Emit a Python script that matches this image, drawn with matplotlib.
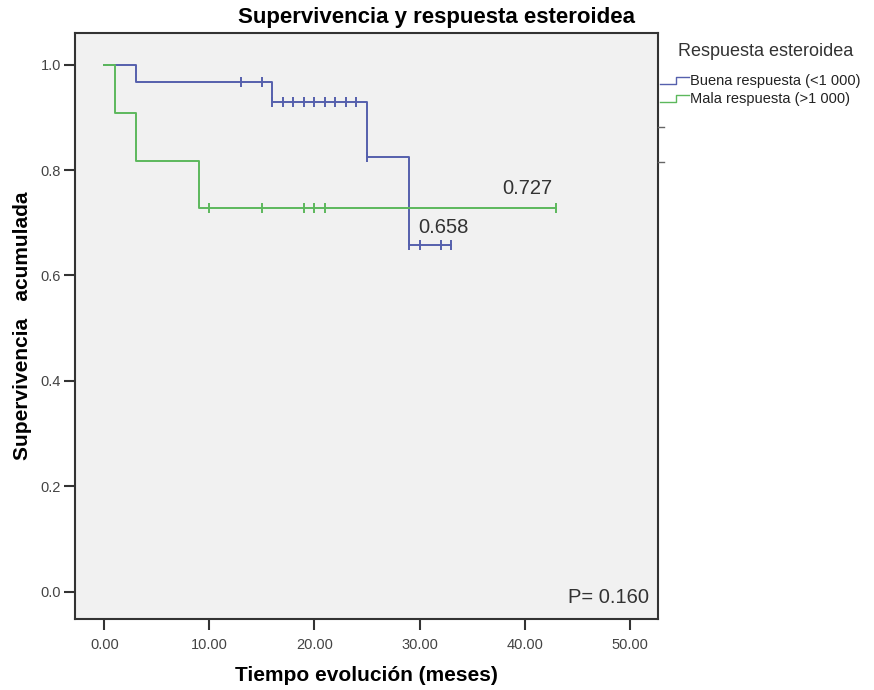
import matplotlib
matplotlib.use("Agg")
import matplotlib.pyplot as plt
from matplotlib.lines import Line2D
import numpy as np

plt.rcParams['font.family'] = ['Liberation Sans', 'DejaVu Sans']

# ---- data ----
good_label = "Buena respuesta (<1 000)"
bad_label = "Mala respuesta (>1 000)"

good_times = [0, 3, 16, 25, 29]
good_surv = [1.0, 0.967, 0.929, 0.824, 0.658]
good_end = 33
good_censor = [13, 15, 16, 17, 18, 19, 20, 21, 22, 23, 24, 25, 29, 30, 32, 33]

bad_times = [0, 1, 3, 9]
bad_surv = [1.0, 0.909, 0.818, 0.727]
bad_end = 43
bad_censor = [10, 15, 19, 20, 21, 43]

x_ticks = [0, 10, 20, 30, 40, 50]
y_ticks = [0.0, 0.2, 0.4, 0.6, 0.8, 1.0]

blue = "#5560ad"
green = "#5cb85c"

W, H = 874, 690
fig = plt.figure(figsize=(W / 100, H / 100), dpi=100)
fig.patch.set_facecolor("white")
ax = fig.add_axes([75 / W, 1 - 619 / H, (658 - 75) / W, (619 - 33) / H])
ax.set_facecolor("#f1f1f1")


def surv_at(t, times, surv):
    idx = np.searchsorted(times, t, side="right") - 1
    return np.asarray(surv)[idx]


for times, surv, end, cens, col in [
    (good_times, good_surv, good_end, good_censor, blue),
    (bad_times, bad_surv, bad_end, bad_censor, green),
]:
    xs = list(times) + [end]
    ys = list(surv) + [surv[-1]]
    ax.step(xs, ys, where="post", color=col, lw=1.4)
    cy = surv_at(np.array(cens), times, surv)
    ax.plot(cens, cy, linestyle="none", marker="|", markersize=6.5,
            markeredgewidth=1.4, color=col)

ax.set_xlim(-2.79, 52.7)
ax.set_ylim(-0.052, 1.06)
ax.set_xticks(x_ticks)
ax.set_xticklabels([f"{v:.2f}" for v in x_ticks])
ax.set_yticks(y_ticks)
ax.set_yticklabels([f"{v:.1f}" for v in y_ticks])
ax.tick_params(axis="both", direction="out", length=8, width=1.5,
               color="#333333", labelcolor="#444444", labelsize=10.5)
ax.tick_params(axis="x", pad=6)
ax.tick_params(axis="y", pad=2)
for s in ax.spines.values():
    s.set_color("#333333")
    s.set_linewidth(1.5)

fig.text(0.5, 1 - 17 / H, "Supervivencia y respuesta esteroidea",
         fontsize=16, fontweight="bold", ha="center", va="center")
ax.set_xlabel("Tiempo evolución (meses)", fontsize=15, fontweight="bold",
              labelpad=10)
ax.set_ylabel("Supervivencia   acumulada", fontsize=15, fontweight="bold",
              labelpad=6)

ax.text(42.6, bad_surv[-1] + 0.02, "0.727", ha="right", va="bottom",
        fontsize=14.5, color="#333333")
ax.text(29.9, good_surv[-1] + 0.015, "0.658", ha="left", va="bottom",
        fontsize=14.5, color="#333333")
ax.text(0.985, 0.02, "P= 0.160", transform=ax.transAxes, ha="right",
        va="bottom", fontsize=14.5, color="#333333")

# legend (manual, outside the axes)
fig.text(678 / W, 1 - 51 / H, "Respuesta esteroidea", fontsize=13,
         color="#333333", va="center", ha="left")
for label, col, yp in [(good_label, blue, 81), (bad_label, green, 99)]:
    yl = 1 - (yp + 3) / H
    yh = 1 - (yp - 4) / H
    fig.add_artist(Line2D([660 / W, 676 / W, 676 / W, 689 / W],
                          [yl, yl, yh, yh], color=col, lw=1.0,
                          transform=fig.transFigure))
    fig.text(690 / W, 1 - yp / H, label, fontsize=10.5, color="#222222",
             va="center", ha="left")

# small SPSS artefact dashes at right of axes
for yp in [127, 162]:
    fig.add_artist(Line2D([658 / W, 664 / W], [1 - yp / H, 1 - yp / H],
                          color="#666666", lw=1.0, transform=fig.transFigure))

fig.savefig("out.png", dpi=100)
